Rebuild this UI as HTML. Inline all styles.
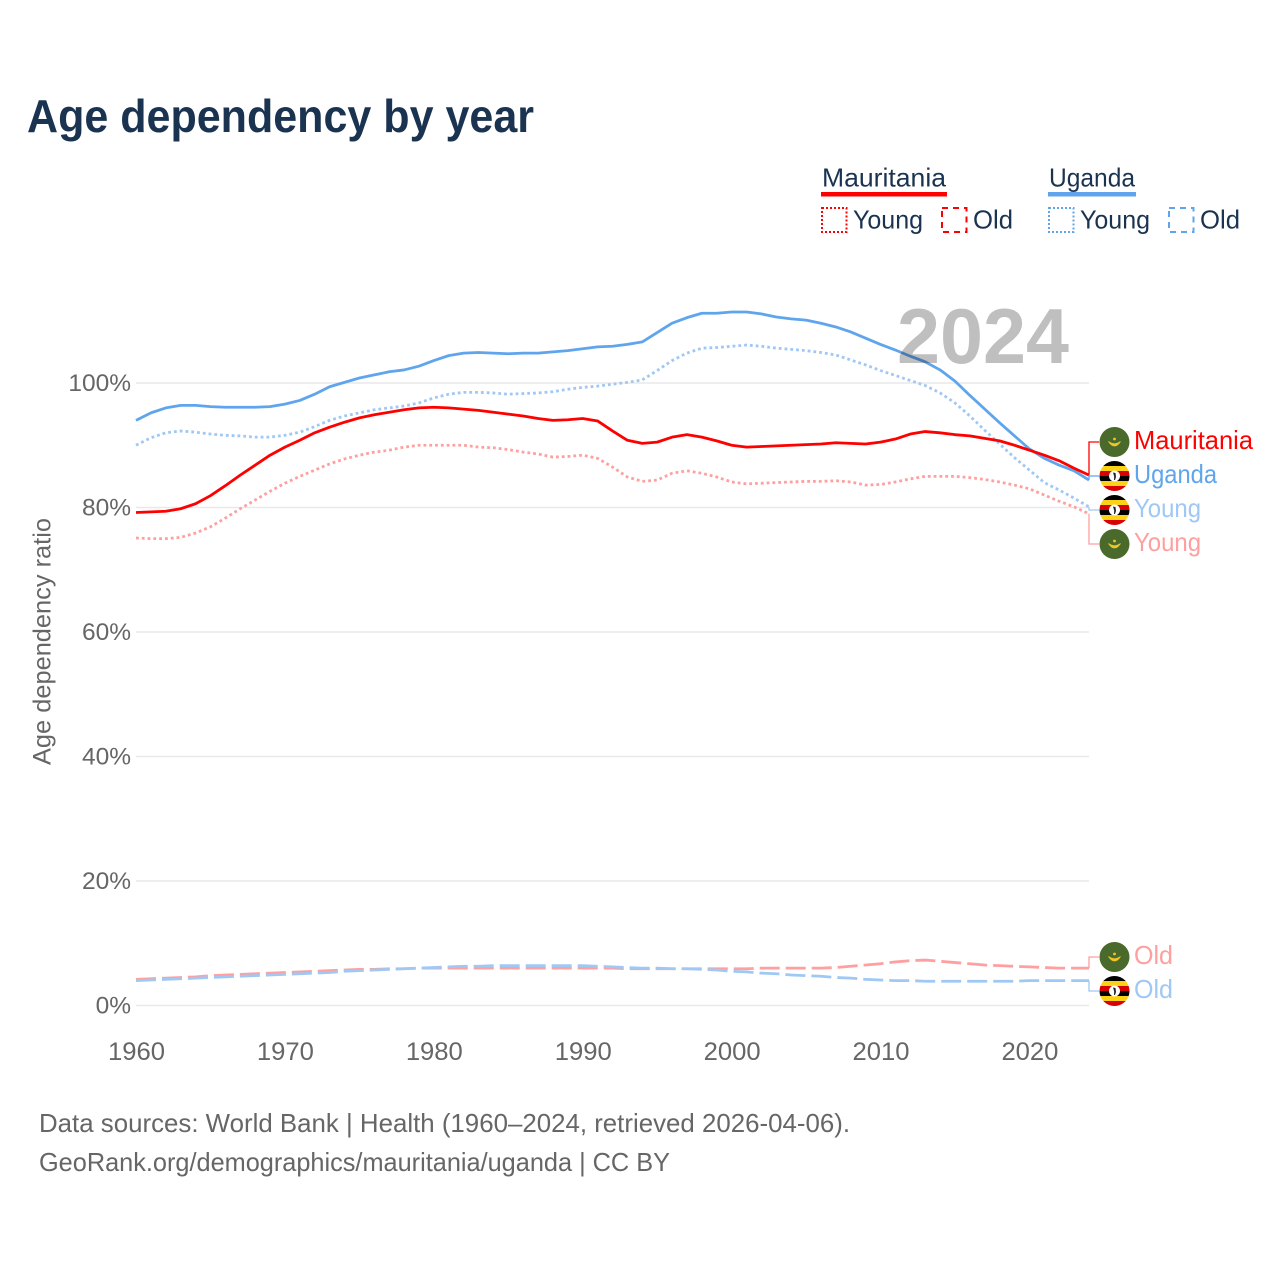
<!DOCTYPE html>
<html lang="en">
<head>
<meta charset="utf-8">
<title>Age dependency by year</title>
<style>
html,body{margin:0;padding:0;background:#fff;width:1280px;height:1280px;overflow:hidden}
svg{display:block}
text{font-family:"Liberation Sans",sans-serif}
</style>
</head>
<body>
<svg id="chart" xmlns="http://www.w3.org/2000/svg" width="1280" height="1280" viewBox="0 0 1280 1280">
  <rect x="0" y="0" width="1280" height="1280" fill="#fff"/>
  <text x="27" y="132" font-size="46" font-weight="bold" fill="#1a3350" textLength="507" lengthAdjust="spacingAndGlyphs">Age dependency by year</text>

  <g>
    <text x="822" y="186.5" font-size="26" fill="#1a3350" textLength="124" lengthAdjust="spacingAndGlyphs">Mauritania</text>
    <rect x="821" y="192" width="126" height="4.5" fill="#ff0000"/>
    <rect x="822" y="208" width="24.5" height="24" fill="none" stroke="#ff0000" stroke-width="2" stroke-dasharray="2 2"/>
    <text x="853" y="228.5" font-size="26" fill="#1a3350" textLength="70" lengthAdjust="spacingAndGlyphs">Young</text>
    <rect x="942" y="208" width="24.5" height="24" fill="none" stroke="#ff0000" stroke-width="2" stroke-dasharray="6 5"/>
    <text x="973" y="228.5" font-size="26" fill="#1a3350" textLength="40" lengthAdjust="spacingAndGlyphs">Old</text>
    <text x="1049" y="186.5" font-size="26" fill="#1a3350" textLength="86" lengthAdjust="spacingAndGlyphs">Uganda</text>
    <rect x="1048" y="192" width="88" height="4.5" fill="#5fa5ee"/>
    <rect x="1049" y="208" width="24.5" height="24" fill="none" stroke="#5fa5ee" stroke-width="2" stroke-dasharray="2 2"/>
    <text x="1080" y="228.5" font-size="26" fill="#1a3350" textLength="70" lengthAdjust="spacingAndGlyphs">Young</text>
    <rect x="1169" y="208" width="24.5" height="24" fill="none" stroke="#5fa5ee" stroke-width="2" stroke-dasharray="6 5"/>
    <text x="1200" y="228.5" font-size="26" fill="#1a3350" textLength="40" lengthAdjust="spacingAndGlyphs">Old</text>
  </g>

  <g id="grid"></g>
  <g id="yticks"></g>
  <g id="xticks"></g>
  <text transform="translate(50.5,765) rotate(-90)" font-size="25" fill="#666" textLength="247" lengthAdjust="spacingAndGlyphs">Age dependency ratio</text>

  <g id="series"></g>
  <g id="labels"></g>

  <text x="897" y="363" font-size="78" font-weight="bold" fill="#000" fill-opacity="0.25" textLength="172" lengthAdjust="spacingAndGlyphs">2024</text>

  <text x="39" y="1132" font-size="26" fill="#666" textLength="811" lengthAdjust="spacingAndGlyphs">Data sources: World Bank | Health (1960–2024, retrieved 2026-04-06).</text>
  <text x="39" y="1171" font-size="26" fill="#666" textLength="631" lengthAdjust="spacingAndGlyphs">GeoRank.org/demographics/mauritania/uganda | CC BY</text>
</svg>
<script>
const startYear = 1960;
const endYear = 2024;
const yTickValues = [0, 20, 40, 60, 80, 100];
const xTickValues = [1960, 1970, 1980, 1990, 2000, 2010, 2020];

const ugandaTotal = [94.0,95.2,96.0,96.4,96.4,96.2,96.1,96.1,96.1,96.2,96.6,97.2,98.2,99.4,100.1,100.8,101.3,101.8,102.1,102.7,103.6,104.4,104.8,104.9,104.8,104.7,104.8,104.8,105.0,105.2,105.5,105.8,105.9,106.2,106.6,108.1,109.6,110.5,111.2,111.2,111.4,111.4,111.1,110.6,110.3,110.1,109.6,109.0,108.2,107.2,106.2,105.3,104.3,103.4,102.1,100.3,98.0,95.8,93.6,91.5,89.4,87.9,86.8,85.9,84.4];
const ugandaYoung = [90.0,91.2,92.0,92.3,92.1,91.8,91.6,91.5,91.3,91.3,91.6,92.1,93.0,94.0,94.7,95.2,95.7,96.0,96.3,96.8,97.6,98.2,98.5,98.5,98.4,98.2,98.3,98.4,98.6,99.0,99.3,99.5,99.8,100.1,100.5,102.0,103.6,104.8,105.6,105.7,105.9,106.1,105.9,105.6,105.4,105.2,104.9,104.5,103.7,102.9,102.0,101.2,100.4,99.6,98.4,96.8,94.7,92.4,90.2,88.0,86.0,84.0,82.8,81.5,80.1];
const ugandaOld = [4.0,4.1,4.2,4.3,4.4,4.5,4.6,4.7,4.8,4.9,5.0,5.1,5.2,5.3,5.5,5.6,5.7,5.8,5.9,6.0,6.1,6.2,6.3,6.3,6.4,6.4,6.4,6.4,6.4,6.4,6.4,6.3,6.2,6.1,6.0,6.0,5.9,5.9,5.8,5.7,5.5,5.4,5.2,5.1,4.9,4.8,4.7,4.5,4.4,4.2,4.1,4.0,4.0,3.9,3.9,3.9,3.9,3.9,3.9,3.9,4.0,4.0,4.0,4.0,4.0];
const mauritaniaTotal = [79.2,79.3,79.4,79.8,80.6,81.9,83.5,85.2,86.8,88.4,89.7,90.8,92.0,92.9,93.7,94.4,94.9,95.3,95.7,96.0,96.1,96.0,95.8,95.6,95.3,95.0,94.7,94.3,94.0,94.1,94.3,93.9,92.3,90.8,90.3,90.5,91.3,91.7,91.3,90.7,90.0,89.7,89.8,89.9,90.0,90.1,90.2,90.4,90.3,90.2,90.5,91.0,91.8,92.2,92.0,91.7,91.5,91.1,90.7,90.0,89.2,88.4,87.5,86.3,85.2];
const mauritaniaYoung = [75.1,75.0,75.0,75.2,75.9,76.9,78.3,79.8,81.2,82.6,83.9,85.0,86.0,87.0,87.8,88.4,88.9,89.2,89.7,90.0,90.0,90.0,90.0,89.7,89.6,89.3,88.9,88.6,88.1,88.2,88.4,87.9,86.5,84.9,84.2,84.4,85.5,85.9,85.5,84.9,84.1,83.8,83.9,84.0,84.1,84.2,84.2,84.3,84.1,83.6,83.7,84.1,84.6,85.0,85.0,85.0,84.8,84.5,84.1,83.6,83.0,82.0,81.0,80.1,79.0];
const mauritaniaOld = [4.2,4.3,4.4,4.5,4.6,4.8,4.9,5.0,5.1,5.2,5.3,5.4,5.5,5.6,5.7,5.8,5.8,5.9,5.9,6.0,6.0,6.0,6.0,6.0,6.0,6.0,6.0,6.0,6.0,6.0,6.0,6.0,6.0,5.9,5.9,5.9,5.9,5.9,5.9,5.9,5.9,5.9,6.0,6.0,6.0,6.0,6.0,6.1,6.3,6.5,6.7,7.0,7.2,7.3,7.1,6.9,6.7,6.5,6.4,6.3,6.2,6.1,6.0,6.0,6.0];

const SVG_NS = 'http://www.w3.org/2000/svg';
const plotLeft = 136, plotRight = 1089, zeroY = 1005.5, hundredY = 383;
function xScale(year){ return plotLeft + (year - startYear) * (plotRight - plotLeft) / (endYear - startYear); }
function yScale(v){ return zeroY + v * (hundredY - zeroY) / 100; }
function mk(tag, attrs, parent){
  const el = document.createElementNS(SVG_NS, tag);
  for (const k in attrs) el.setAttribute(k, attrs[k]);
  parent.appendChild(el);
  return el;
}
const gridG = document.getElementById('grid');
const yTickG = document.getElementById('yticks');
const xTickG = document.getElementById('xticks');
const seriesG = document.getElementById('series');
const labelsG = document.getElementById('labels');

yTickValues.forEach(function(v){
  const line = mk('line', {x1: plotLeft, x2: plotRight, y1: yScale(v), y2: yScale(v), stroke: '#e9e9e9', 'stroke-width': 1.5}, gridG);
  
  
  const t = mk('text', {x: 131, y: yScale(v) + 8, 'text-anchor': 'end', 'font-size': 24.5, fill: '#666'}, yTickG);
  
  
  t.textContent = v + '%';
});
xTickValues.forEach(function(y){
  const t = mk('text', {x: xScale(y) + 0.5, y: 1060, 'text-anchor': 'middle', 'font-size': 25, fill: '#666', textLength: 57, lengthAdjust: 'spacingAndGlyphs'}, xTickG);
  
  
  t.textContent = y;
});

function drawLine(values, color, dash, name){
  const d = values.map(function(v, i){
    return (i ? 'L' : 'M') + xScale(startYear + i).toFixed(2) + ' ' + yScale(v).toFixed(2);
  }).join('');
  const p = mk('path', {d: d, fill: 'none', stroke: color, 'stroke-width': 2.8, 'stroke-linejoin': 'round'}, seriesG);
  if (dash) p.setAttribute('stroke-dasharray', dash);
  
  
}
drawLine(mauritaniaOld, '#ff9f9f', '20 6', 'line-mauritania-old');
drawLine(ugandaOld, '#9fc8f4', '20 6', 'line-uganda-old');
drawLine(mauritaniaYoung, '#ff9f9f', '2.8 3', 'line-mauritania-young');
drawLine(ugandaYoung, '#9fc8f4', '2.8 3', 'line-uganda-young');
drawLine(ugandaTotal, '#5fa5ee', null, 'line-uganda-total');
drawLine(mauritaniaTotal, '#ff0000', null, 'line-mauritania-total');

function drawFlag(kind, cx, cy, idx){
  const g = mk('g', {}, labelsG);
  
  
  const r = 15;
  if (kind === 'M') {
    mk('circle', {cx: cx, cy: cy, r: r, fill: '#4a6a2c'}, g);
    mk('path', {d: 'M' + (cx-6) + ' ' + (cy-0.5) + 'Q' + cx + ' ' + (cy+8.5) + ' ' + (cx+6) + ' ' + (cy-0.5) + 'Q' + cx + ' ' + (cy+4) + ' ' + (cx-6) + ' ' + (cy-0.5)+'Z', fill: '#f0c528', stroke: '#f0c528', 'stroke-width': 0.8}, g);
    mk('circle', {cx: cx, cy: cy - 3, r: 1.4, fill: '#f0c528'}, g);
  } else {
    const id = 'clip' + idx;
    const cp = mk('clipPath', {id: id}, g);
    mk('circle', {cx: cx, cy: cy, r: r}, cp);
    const inner = mk('g', {'clip-path': 'url(#' + id + ')'}, g);
    const cols = ['#000', '#fcd116', '#d90000', '#000', '#fcd116', '#d90000'];
    cols.forEach(function(c, i){
      mk('rect', {x: cx - r, y: cy - r + i * 5, width: 2 * r, height: 5.2, fill: c}, inner);
    });
    mk('circle', {cx: cx, cy: cy, r: 5.5, fill: '#fff'}, g);
    mk('path', {d: 'M' + (cx-1.5) + ' ' + (cy-3.5) + 'L' + (cx+1) + ' ' + (cy-3) + 'L' + (cx+1.5) + ' ' + (cy+1) + 'L' + (cx+0.5) + ' ' + (cy+4) + 'L' + (cx-0.5) + ' ' + (cy+4) + 'L' + (cx-0.3) + ' ' + (cy+0.5) + 'Z', fill: '#222'}, g);
  }
}

function drawEnd(values, labelY, color, flag, text, width, idx){
  const endY = yScale(values[values.length - 1]);
  const c = mk('path', {d: 'M' + plotRight + ' ' + endY.toFixed(2) + 'V' + labelY + 'H1099', fill: 'none', stroke: color, 'stroke-width': 1.3}, labelsG);
  
  
  drawFlag(flag, 1114.5, labelY, idx);
  const t = mk('text', {x: 1134, y: labelY + 7, 'font-size': 26, fill: color, textLength: width, lengthAdjust: 'spacingAndGlyphs'}, labelsG);
  
  
  t.textContent = text;
}
drawEnd(mauritaniaTotal, 442, '#ff0000', 'M', 'Mauritania', 119, 0);
drawEnd(ugandaTotal, 476, '#5fa5ee', 'U', 'Uganda', 83, 1);
drawEnd(ugandaYoung, 510, '#9fc8f4', 'U', 'Young', 67, 2);
drawEnd(mauritaniaYoung, 544, '#ff9f9f', 'M', 'Young', 67, 3);
drawEnd(mauritaniaOld, 957, '#ff9f9f', 'M', 'Old', 39, 4);
drawEnd(ugandaOld, 991, '#9fc8f4', 'U', 'Old', 39, 5);
</script>
</body>
</html>
